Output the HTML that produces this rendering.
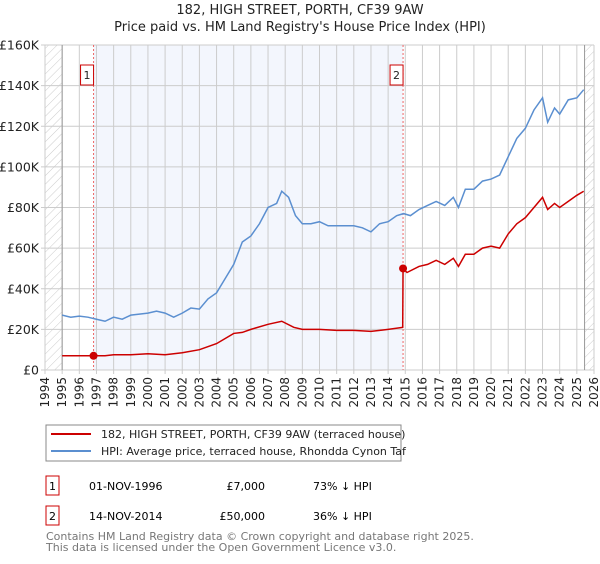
<!DOCTYPE html>
<html><head><meta charset="utf-8"><style>
body{margin:0;background:#fff;font-family:"DejaVu Sans","Liberation Sans",sans-serif;}
svg text{font-family:"DejaVu Sans","Liberation Sans",sans-serif;}
</style></head><body>
<svg id="c" width="600" height="560" xmlns="http://www.w3.org/2000/svg">
<defs><pattern id="hatch" width="6" height="6" patternUnits="userSpaceOnUse" patternTransform="rotate(45)"><line x1="0" y1="0" x2="0" y2="6" stroke="#ccc" stroke-width="1"/></pattern></defs>
<text x="300" y="14" text-anchor="middle" font-size="13" fill="#222">182, HIGH STREET, PORTH, CF39 9AW</text>
<text x="300" y="31" text-anchor="middle" font-size="13" fill="#222">Price paid vs. HM Land Registry's House Price Index (HPI)</text>
<g id="plot"></g>
<g>
<rect x="46" y="425" width="355" height="36" fill="#fff" stroke="#888"/>
<line x1="51" y1="434" x2="91" y2="434" stroke="#cc0000" stroke-width="2"/>
<text x="101" y="438" font-size="11" fill="#222">182, HIGH STREET, PORTH, CF39 9AW (terraced house)</text>
<line x1="51" y1="451" x2="91" y2="451" stroke="#5b8fd0" stroke-width="2"/>
<text x="101" y="455" font-size="11" fill="#222">HPI: Average price, terraced house, Rhondda Cynon Taf</text>
</g>
<g>
<rect x="46" y="476" width="13" height="19" fill="#fff" stroke="#cc0000"/>
<text x="52.5" y="490" font-size="11" text-anchor="middle">1</text>
<text x="89" y="490" font-size="11">01-NOV-1996</text>
<text x="265" y="490" font-size="11" text-anchor="end">£7,000</text>
<text x="313" y="490" font-size="11">73% ↓ HPI</text>
<rect x="46" y="506" width="13" height="19" fill="#fff" stroke="#cc0000"/>
<text x="52.5" y="520" font-size="11" text-anchor="middle">2</text>
<text x="89" y="520" font-size="11">14-NOV-2014</text>
<text x="265" y="520" font-size="11" text-anchor="end">£50,000</text>
<text x="313" y="520" font-size="11">36% ↓ HPI</text>
</g>
<text x="46" y="540" font-size="11" fill="#777">Contains HM Land Registry data © Crown copyright and database right 2025.</text>
<text x="46" y="551" font-size="11" fill="#777">This data is licensed under the Open Government Licence v3.0.</text>
</svg>
<script>
const hpiYears=[1995,1995.5,1996,1996.5,1997,1997.5,1998,1998.5,1999,1999.5,2000,2000.5,2001,2001.5,2002,2002.5,2003,2003.5,2004,2004.5,2005,2005.5,2006,2006.5,2007,2007.5,2007.8,2008.2,2008.6,2009,2009.5,2010,2010.5,2011,2011.5,2012,2012.5,2013,2013.5,2014,2014.5,2014.9,2015.3,2015.8,2016.3,2016.8,2017.3,2017.8,2018.1,2018.5,2019,2019.5,2020,2020.5,2021,2021.5,2022,2022.5,2023,2023.3,2023.7,2024,2024.5,2025,2025.4];
const hpiValues=[27,26,26.5,26,25,24,26,25,27,27.5,28,29,28,26,28,30.5,30,35,38,45,52,63,66,72,80,82,88,85,76,72,72,73,71,71,71,71,70,68,72,73,76,77,76,79,81,83,81,85,80,89,89,93,94,96,105,114,119,128,134,122,129,126,133,134,138];
const ppYears=[1995,1996,1996.83,1997.5,1998,1999,2000,2001,2002,2003,2004,2005,2005.5,2006,2007,2007.8,2008.5,2009,2010,2011,2012,2013,2014,2014.85,2014.87,2015.1,2015.8,2016.3,2016.8,2017.3,2017.8,2018.1,2018.5,2019,2019.5,2020,2020.5,2021,2021.5,2022,2022.5,2023,2023.3,2023.7,2024,2024.5,2025,2025.4];
const ppValues=[7,7,7,7,7.5,7.5,8,7.5,8.5,10,13,18,18.5,20,22.5,24,21,20,20,19.5,19.5,19,20,21,50,48,51,52,54,52,55,51,57,57,60,61,60,67,72,75,80,85,79,82,80,83,86,88];
const saleYears=[1996.83,2014.87];
const saleValues=[7,50];
const saleLabels=["1","2"];
const yTicks=[0,20,40,60,80,100,120,140,160];
const yTickLabels=["£0","£20K","£40K","£60K","£80K","£100K","£120K","£140K","£160K"];
const xTicks=[1994,1995,1996,1997,1998,1999,2000,2001,2002,2003,2004,2005,2006,2007,2008,2009,2010,2011,2012,2013,2014,2015,2016,2017,2018,2019,2020,2021,2022,2023,2024,2025,2026];

const X0=45,X1=594,Y0=370,Y1=45;
const xs=y=>X0+(y-1994)/(2026-1994)*(X1-X0);
const ys=v=>Y0-v/160*(Y0-Y1);
const NS="http://www.w3.org/2000/svg";
const g=document.getElementById('plot');
function mk(t,a){const e=document.createElementNS(NS,t);for(const k in a)e.setAttribute(k,a[k]);g.appendChild(e);return e;}
let e;
e=mk('rect',{x:xs(saleYears[0]),y:Y1,width:xs(saleYears[1])-xs(saleYears[0]),height:Y0-Y1,fill:'#f3f6fd'});


e=mk('rect',{x:X0,y:Y1,width:xs(1995)-X0,height:Y0-Y1,fill:'url(#hatch)'});


e=mk('rect',{x:xs(2025.45),y:Y1,width:X1-xs(2025.45),height:Y0-Y1,fill:'url(#hatch)'});


xTicks.forEach((yr,i)=>{
 e=mk('line',{x1:xs(yr),x2:xs(yr),y1:Y1,y2:Y0+4,stroke:'#ccc','stroke-width':1});
 
 
 e=mk('text',{x:0,y:0,'font-size':12,fill:'#222','text-anchor':'end',transform:`translate(${xs(yr)+4},${Y0+7}) rotate(-90)`});
 e.textContent=yr;
 
 
});
yTicks.forEach((v,i)=>{
 e=mk('line',{x1:X0-4,x2:X1,y1:ys(v),y2:ys(v),stroke:'#ccc','stroke-width':1});
 
 
 e=mk('text',{x:X0-6,y:ys(v)+4.5,'font-size':12.5,fill:'#222','text-anchor':'end'});
 e.textContent=yTickLabels[i];
 
 
});
e=mk('line',{x1:xs(1995),x2:xs(1995),y1:Y1,y2:Y0,stroke:'#999'});


e=mk('line',{x1:xs(2025.45),x2:xs(2025.45),y1:Y1,y2:Y0,stroke:'#999'});


saleYears.forEach((yr,i)=>{
 e=mk('line',{x1:xs(yr),x2:xs(yr),y1:Y1,y2:Y0,stroke:'#e66','stroke-width':1,'stroke-dasharray':'2,2'});
 
 
 e=mk('rect',{x:xs(yr)-13,y:65,width:13,height:20,fill:'#fff',stroke:'#cc0000'});
 
 
 e=mk('text',{x:xs(yr)-6.5,y:79,'font-size':11,'text-anchor':'middle',fill:'#222'});
 e.textContent=saleLabels[i];
 
 
});
e=mk('polyline',{points:hpiYears.map((y,i)=>xs(y)+','+ys(hpiValues[i])).join(' '),fill:'none',stroke:'#5b8fd0','stroke-width':1.5});


e=mk('polyline',{points:ppYears.map((y,i)=>xs(y)+','+ys(ppValues[i])).join(' '),fill:'none',stroke:'#cc0000','stroke-width':1.5});


saleYears.forEach((yr,i)=>{
 e=mk('circle',{cx:xs(yr),cy:ys(saleValues[i]),r:4,fill:'#cc0000'});
 
 
});
</script>
</body></html>
